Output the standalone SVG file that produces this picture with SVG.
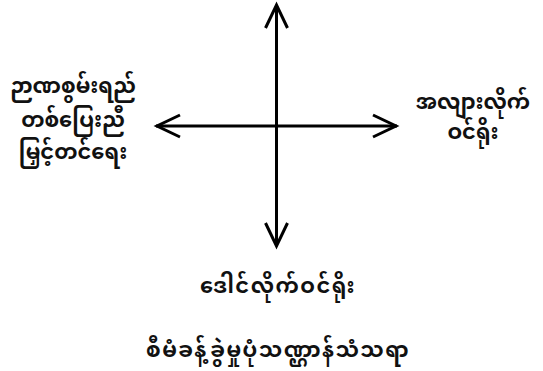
<svg xmlns="http://www.w3.org/2000/svg" width="543" height="371" viewBox="0 0 543 371">
<style>
.t{font-family:"Noto Sans Myanmar","Padauk","Myanmar Text","Noto Sans",sans-serif;font-weight:bold;font-size:21px;fill:#111;text-anchor:middle}
.w{letter-spacing:1.5px}
.ln{stroke:#000;stroke-width:3;fill:none;stroke-linecap:butt;stroke-linejoin:miter}
</style>
<rect width="543" height="371" fill="#fff"/>
<g id="connectors">
<line class="ln" x1="276.5" y1="5" x2="276.5" y2="246"/>
<line class="ln" x1="156" y1="126" x2="397" y2="126"/>
<polyline class="ln" points="265.5,28 276.5,5 287.5,28"/>
<polyline class="ln" points="265.5,223 276.5,246 287.5,223"/>
<polyline class="ln" points="180,115 157,126 180,137"/>
<polyline class="ln" points="373,115 396,126 373,137"/>
</g>
<g id="node-left">
<text class="t" x="73" y="93">ဉာဏစွမ်းရည်</text>
<text class="t" x="73" y="127">တစ်ပြေးညီ</text>
<text class="t" x="73" y="159">မြှင့်တင်ရေး</text>
</g>
<g id="node-right">
<text class="t" x="473" y="109">အလျားလိုက်</text>
<text class="t" x="473" y="139">ဝင်ရိုး</text>
</g>
<g id="node-bottom">
<text class="t w" x="278" y="293">ဒေါင်လိုက်ဝင်ရိုး</text>
</g>
<g id="title">
<text class="t w" x="278" y="357">စီမံခန့်ခွဲမှုပုံသဏ္ဌာန်သံသရာ</text>
</g>
</svg>
